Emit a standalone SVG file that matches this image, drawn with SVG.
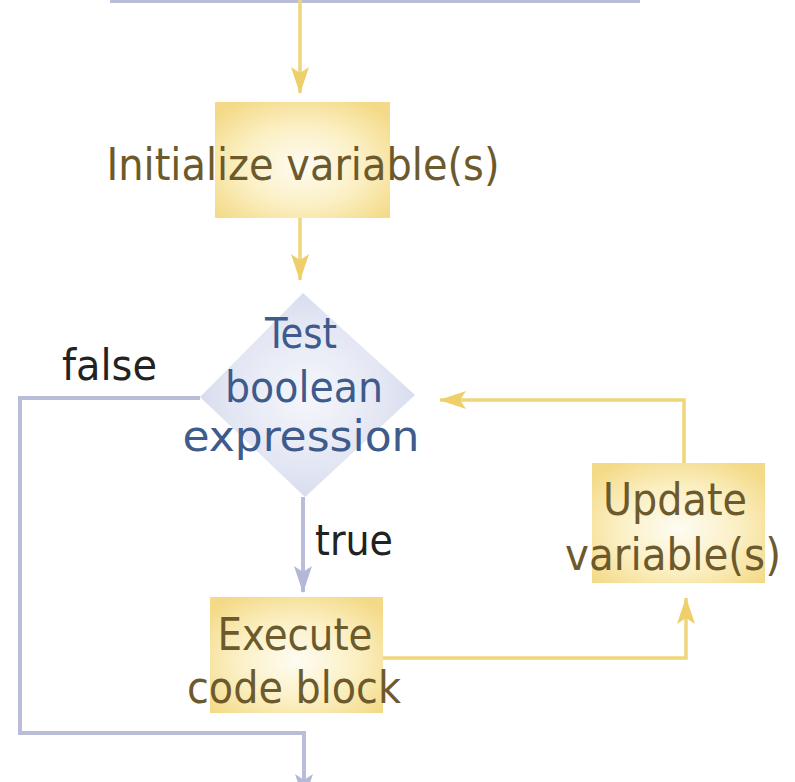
<svg xmlns="http://www.w3.org/2000/svg" width="795" height="782" viewBox="0 0 795 782">
  <style>
    .box { stroke: none; }
    .lbl { font-family: "Liberation Sans Narrow", "DejaVu Sans Condensed", Roboto, sans-serif; font-size: 45px; fill: #6d5a2c; text-anchor: middle; }
    .blue { fill: #3d5b8c; font-size: 42px; }
    .blk { font-family: "Liberation Sans Narrow", "DejaVu Sans Condensed", Roboto, sans-serif; font-size: 43px; fill: #222222; }
    .yl { fill: none; stroke: #efd57c; stroke-width: 3.5; }
    .lv { fill: none; stroke: #b9bdd9; stroke-width: 4; }
  </style>
  <defs>
    <radialGradient id="yg" cx="50%" cy="55%" r="65%">
      <stop offset="0" stop-color="#fefcf3"/>
      <stop offset="0.55" stop-color="#fbefc2"/>
      <stop offset="1" stop-color="#f4da88"/>
    </radialGradient>
    <radialGradient id="lg" cx="50%" cy="50%" r="60%">
      <stop offset="0" stop-color="#f6f7fc"/>
      <stop offset="0.6" stop-color="#e3e6f3"/>
      <stop offset="1" stop-color="#d0d5ea"/>
    </radialGradient>
    <marker id="ay" markerUnits="userSpaceOnUse" markerWidth="28" markerHeight="20" viewBox="0 0 28 20" refX="26" refY="10" orient="auto">
      <path d="M0,1 L6,10 L0,19 L27,10 Z" fill="#efcf6a"/>
    </marker>
    <marker id="al" markerUnits="userSpaceOnUse" markerWidth="28" markerHeight="20" viewBox="0 0 28 20" refX="26" refY="10" orient="auto">
      <path d="M0,1 L6,10 L0,19 L27,10 Z" fill="#b3b8d8"/>
    </marker>
  </defs>

  <g id="connectors">
    <line class="lv" x1="110" y1="1" x2="640" y2="1"/>
    <line class="yl" x1="300" y1="0" x2="300" y2="93" marker-end="url(#ay)"/>
    <line class="yl" x1="300" y1="218" x2="300" y2="280" marker-end="url(#ay)"/>
    <polyline class="lv" points="200,398 20,398 20,733 304,733 304,800" marker-end="url(#al)"/>
    <line class="lv" x1="303" y1="497" x2="303" y2="592" marker-end="url(#al)"/>
    <polyline class="yl" points="383,658 686,658 686,598" marker-end="url(#ay)"/>
    <polyline class="yl" points="684,463 684,400 440,400" marker-end="url(#ay)"/>
  </g>

  <g id="init">
    <rect class="box" x="215" y="102" width="175" height="116" fill="url(#yg)"/>
    <text class="lbl" x="303" y="180" textLength="393" lengthAdjust="spacingAndGlyphs">Initialize variable(s)</text>
  </g>

  <g id="test">
    <polygon points="303,293 415,395 305,497 200,397" fill="url(#lg)"/>
    <text class="lbl blue" x="301" y="348" textLength="72" lengthAdjust="spacingAndGlyphs">Test</text>
    <text class="lbl blue" x="304" y="402" textLength="158" lengthAdjust="spacingAndGlyphs">boolean</text>
    <text class="lbl blue" x="301" y="451" textLength="237" lengthAdjust="spacingAndGlyphs">expression</text>
  </g>

  <g id="false-label">
    <text class="blk" x="62" y="380" textLength="95" lengthAdjust="spacingAndGlyphs">false</text>
  </g>

  <g id="true-label">
    <text class="blk" x="315" y="555" textLength="78" lengthAdjust="spacingAndGlyphs">true</text>
  </g>

  <g id="execute">
    <rect class="box" x="210" y="597" width="173" height="116" fill="url(#yg)"/>
    <text class="lbl" x="295" y="650" textLength="155" lengthAdjust="spacingAndGlyphs">Execute</text>
    <text class="lbl" x="294" y="703" textLength="214" lengthAdjust="spacingAndGlyphs">code block</text>
  </g>

  <g id="update">
    <rect class="box" x="592" y="463" width="173" height="120" fill="url(#yg)"/>
    <text class="lbl" x="675" y="515" textLength="144" lengthAdjust="spacingAndGlyphs">Update</text>
    <text class="lbl" x="673" y="570" textLength="216" lengthAdjust="spacingAndGlyphs">variable(s)</text>
  </g>
</svg>
